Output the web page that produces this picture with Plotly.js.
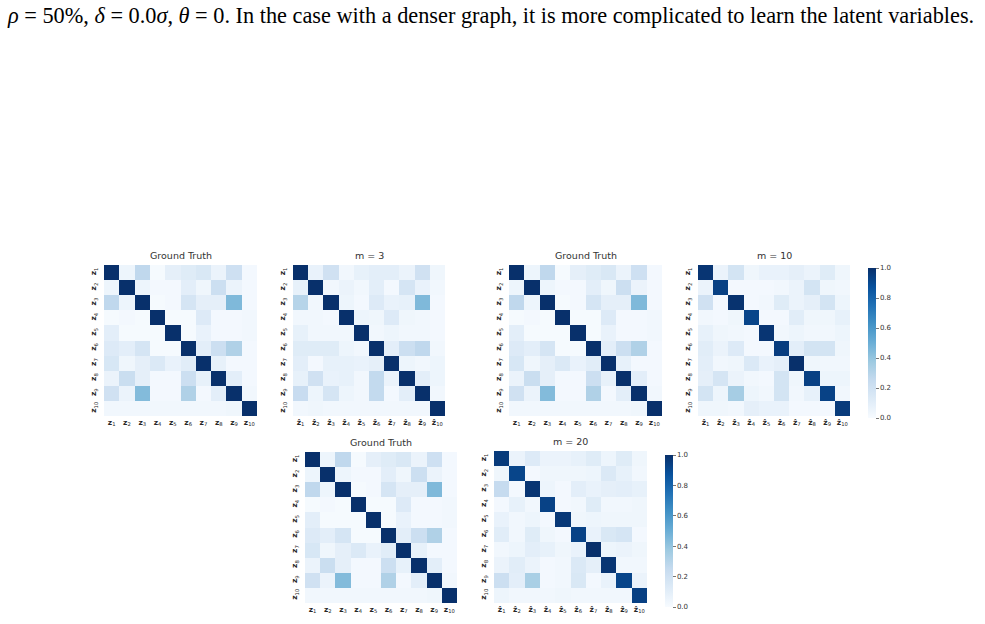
<!DOCTYPE html>
<html>
<head>
<meta charset="utf-8">
<script src="https://cdn.plot.ly/plotly-3.0.1.min.js"></script>
<style>html,body{margin:0;padding:0;background:#fff;}#chart{width:985px;height:624px;}</style>
</head>
<body>
<div id="chart"></div>
<script>
// ---- data ----
const idx = [1,2,3,4,5,6,7,8,9,10];
const trueLabels = idx.map(i => "<b>z</b><sub>" + i + "</sub>");
const estLabels = idx.map(i => "<b>z\u0302</b><sub>" + i + "</sub>");
const panelTitles = ["Ground Truth", "m = 3", "Ground Truth", "m = 10", "Ground Truth", "m = 20"];
const colorbarTicks = [0, 0.2, 0.4, 0.6, 0.8, 1.0];
const colorbarTickText = ["0.0", "0.2", "0.4", "0.6", "0.8", "1.0"];
const caption = "<i>ρ</i> = 50%, <i>δ</i> = 0.0<i>σ</i>, <i>θ</i> = 0. In the case with a denser graph, it is more complicated to learn the latent variables.";

const groundTruth = [
  [1.00, 0.05, 0.27, 0.01, 0.09, 0.12, 0.15, 0.06, 0.21, 0.02],
  [0.05, 1.00, 0.05, 0.02, 0.02, 0.10, 0.04, 0.22, 0.06, 0.02],
  [0.27, 0.05, 1.00, 0.01, 0.02, 0.17, 0.09, 0.09, 0.45, 0.02],
  [0.01, 0.02, 0.01, 1.00, 0.01, 0.01, 0.13, 0.02, 0.02, 0.03],
  [0.10, 0.01, 0.01, 0.01, 1.00, 0.01, 0.07, 0.02, 0.02, 0.03],
  [0.13, 0.10, 0.17, 0.01, 0.01, 1.00, 0.10, 0.22, 0.32, 0.02],
  [0.16, 0.04, 0.09, 0.14, 0.07, 0.11, 1.00, 0.08, 0.02, 0.02],
  [0.06, 0.23, 0.09, 0.02, 0.02, 0.22, 0.08, 1.00, 0.10, 0.02],
  [0.20, 0.06, 0.44, 0.02, 0.02, 0.32, 0.02, 0.10, 1.00, 0.03],
  [0.03, 0.03, 0.03, 0.03, 0.03, 0.03, 0.03, 0.03, 0.04, 1.00]
];
const m3 = [
  [1.00, 0.07, 0.20, 0.03, 0.08, 0.10, 0.10, 0.06, 0.20, 0.04],
  [0.08, 1.00, 0.03, 0.06, 0.03, 0.10, 0.02, 0.17, 0.07, 0.03],
  [0.30, 0.03, 1.00, 0.05, 0.02, 0.13, 0.07, 0.08, 0.45, 0.02],
  [0.03, 0.03, 0.02, 1.00, 0.05, 0.04, 0.13, 0.04, 0.03, 0.02],
  [0.08, 0.03, 0.03, 0.03, 1.00, 0.03, 0.05, 0.03, 0.03, 0.02],
  [0.12, 0.12, 0.12, 0.05, 0.03, 1.00, 0.10, 0.22, 0.27, 0.03],
  [0.10, 0.02, 0.08, 0.08, 0.07, 0.09, 1.00, 0.05, 0.03, 0.05],
  [0.08, 0.20, 0.07, 0.08, 0.03, 0.26, 0.06, 1.00, 0.10, 0.05],
  [0.24, 0.05, 0.17, 0.05, 0.03, 0.26, 0.02, 0.10, 1.00, 0.03],
  [0.03, 0.04, 0.03, 0.03, 0.03, 0.03, 0.03, 0.03, 0.03, 1.00]
];
const m10 = [
  [0.98, 0.06, 0.18, 0.04, 0.07, 0.07, 0.09, 0.06, 0.12, 0.04],
  [0.06, 0.94, 0.02, 0.02, 0.02, 0.03, 0.06, 0.18, 0.04, 0.03],
  [0.20, 0.02, 0.99, 0.02, 0.03, 0.12, 0.06, 0.09, 0.18, 0.05],
  [0.03, 0.02, 0.04, 0.92, 0.02, 0.02, 0.11, 0.04, 0.04, 0.08],
  [0.08, 0.04, 0.03, 0.02, 0.98, 0.03, 0.05, 0.03, 0.03, 0.05],
  [0.11, 0.06, 0.13, 0.02, 0.02, 0.95, 0.10, 0.18, 0.18, 0.04],
  [0.10, 0.03, 0.04, 0.14, 0.07, 0.09, 1.00, 0.04, 0.03, 0.03],
  [0.09, 0.17, 0.06, 0.03, 0.02, 0.18, 0.04, 0.94, 0.05, 0.05],
  [0.18, 0.05, 0.35, 0.05, 0.03, 0.18, 0.03, 0.08, 0.93, 0.03],
  [0.04, 0.04, 0.03, 0.09, 0.07, 0.07, 0.02, 0.02, 0.02, 0.96]
];
const m20 = [
  [0.96, 0.06, 0.13, 0.06, 0.06, 0.08, 0.12, 0.05, 0.12, 0.04],
  [0.04, 0.92, 0.02, 0.04, 0.04, 0.04, 0.05, 0.14, 0.08, 0.03],
  [0.25, 0.02, 0.98, 0.05, 0.02, 0.10, 0.07, 0.09, 0.10, 0.08],
  [0.02, 0.08, 0.03, 0.93, 0.02, 0.03, 0.12, 0.03, 0.03, 0.04],
  [0.07, 0.03, 0.05, 0.02, 0.97, 0.04, 0.05, 0.04, 0.04, 0.04],
  [0.11, 0.03, 0.12, 0.04, 0.02, 0.93, 0.07, 0.15, 0.17, 0.02],
  [0.03, 0.05, 0.10, 0.08, 0.04, 0.07, 1.00, 0.05, 0.06, 0.04],
  [0.06, 0.11, 0.06, 0.02, 0.03, 0.14, 0.09, 0.98, 0.03, 0.03],
  [0.22, 0.10, 0.34, 0.02, 0.03, 0.15, 0.02, 0.07, 0.92, 0.06],
  [0.05, 0.03, 0.03, 0.03, 0.04, 0.03, 0.03, 0.03, 0.03, 0.94]
];

// ---- layout / styling ----
const W = 985, H = 624;
const blues = [[0,'#f7fbff'],[0.125,'#deebf7'],[0.25,'#c6dbef'],[0.375,'#9ecae1'],[0.5,'#6baed6'],[0.625,'#4292c6'],[0.75,'#2171b5'],[0.875,'#08519c'],[1,'#08306b']];
const panels = [
  {z: groundTruth, est: false, box: [104, 257, 265, 416]},
  {z: m3,          est: true,  box: [293, 445, 265, 416]},
  {z: groundTruth, est: false, box: [509, 662, 265, 416]},
  {z: m10,         est: true,  box: [698, 850, 265, 416], cb: [868, 268, 418]},
  {z: groundTruth, est: false, box: [305, 457, 452, 603]},
  {z: m20,         est: true,  box: [494, 647, 451, 603], cb: [665, 455, 607]}
];
const pos = idx.map((v, i) => i);
const tickFont = {family: 'DejaVu Sans', size: 7.5, color: '#262626'};
const data = [];
const layout = {
  width: W, height: H,
  margin: {l: 0, r: 0, t: 0, b: 0},
  paper_bgcolor: '#ffffff', plot_bgcolor: '#ffffff',
  showlegend: false,
  annotations: [{
    text: caption, xref: 'paper', yref: 'paper', x: 5 / W, y: 1 - 1 / H,
    xanchor: 'left', yanchor: 'top', showarrow: false,
    font: {family: 'Liberation Serif', size: 22.3, color: '#000'}
  }]
};
panels.forEach((p, k) => {
  const n = k + 1;
  const xa = 'x' + (n === 1 ? '' : n), ya = 'y' + (n === 1 ? '' : n);
  const [x0, x1, y0, y1] = p.box;
  const tr = {
    type: 'heatmap', z: p.z, x: pos, y: pos, xaxis: xa, yaxis: ya,
    zmin: 0, zmax: 1, colorscale: blues, showscale: !!p.cb, hoverinfo: 'z'
  };
  if (p.cb) {
    tr.colorbar = {
      x: p.cb[0] / W, xanchor: 'left', xpad: 0, ypad: 0,
      y: 1 - p.cb[2] / H, yanchor: 'bottom',
      len: p.cb[2] - p.cb[1], lenmode: 'pixels', thickness: 8, thicknessmode: 'pixels',
      outlinewidth: 0, tickvals: colorbarTicks, ticktext: colorbarTickText,
      ticks: 'outside', ticklen: 3, tickwidth: 0.8, tickcolor: '#555',
      tickfont: {family: 'DejaVu Sans', size: 7, color: '#333'}
    };
  }
  data.push(tr);
  const xname = 'xaxis' + (n === 1 ? '' : n), yname = 'yaxis' + (n === 1 ? '' : n);
  layout[xname] = {
    domain: [x0 / W, x1 / W], anchor: ya, range: [-0.5, 9.5],
    tickvals: pos, ticktext: p.est ? estLabels : trueLabels,
    showgrid: false, zeroline: false, showline: false, ticks: '',
    tickfont: tickFont, tickangle: 0, fixedrange: true
  };
  layout[yname] = {
    domain: [1 - y1 / H, 1 - y0 / H], anchor: xa, range: [9.5, -0.5],
    tickvals: pos, ticktext: trueLabels,
    showgrid: false, zeroline: false, showline: false, ticks: 'outside', ticklen: 4, tickcolor: 'rgba(0,0,0,0)',
    tickfont: tickFont, tickangle: -90, fixedrange: true
  };
  layout.annotations.push({
    text: panelTitles[k], xref: 'paper', yref: 'paper',
    x: (x0 + x1) / 2 / W, y: 1 - (y0 - 2) / H, xanchor: 'center', yanchor: 'bottom',
    showarrow: false, font: {family: 'DejaVu Sans', size: 9.5, color: '#333'}
  });
});
Plotly.newPlot('chart', data, layout, {staticPlot: true, displayModeBar: false});
</script>
</body>
</html>
